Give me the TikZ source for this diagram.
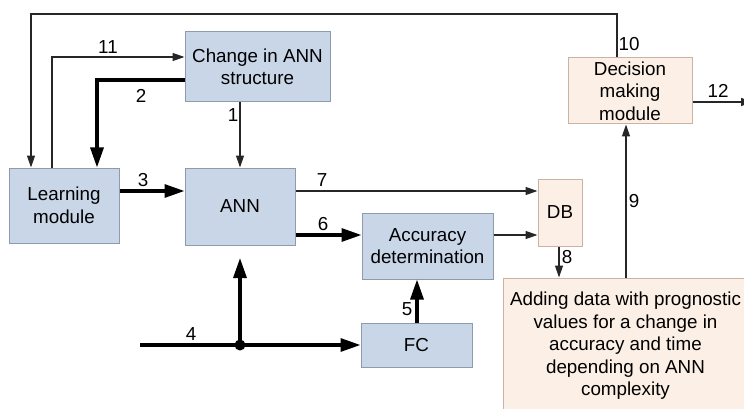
\documentclass[tikz,border=0pt]{standalone}
\usepackage{fontspec}
\setmainfont{Liberation Sans}
\usetikzlibrary{arrows.meta,calc}
\definecolor{bluefill}{HTML}{C9D6E8}
\definecolor{blueedge}{HTML}{8C9BAE}
\definecolor{peachfill}{HTML}{FCEFE6}
\definecolor{peachedge}{HTML}{C9B3A4}
\definecolor{linecol}{HTML}{262626}
\begin{document}
\begin{tikzpicture}[x=1pt,y=-1pt,
  font=\fontsize{18.8}{22.5}\selectfont,
  bluebox/.style={draw=blueedge,fill=bluefill,line width=1pt,align=center,inner sep=0pt,anchor=center},
  peachbox/.style={draw=peachedge,fill=peachfill,line width=1pt,align=center,inner sep=0pt,anchor=center},
  thinarrow/.style={draw=linecol,line width=1.3pt,-{Triangle[length=12pt,width=8pt]}},
  thickarrow/.style={draw=black,line width=3.2pt,-{Triangle[length=20pt,width=13pt]}},
  lbl/.style={inner sep=0pt,anchor=center}]
\useasboundingbox (0,0) rectangle (744,409);
% boxes
\node[bluebox,minimum width=110pt,minimum height=75pt] (learn) at (64,205.5) {Learning\\module};
\node[bluebox,minimum width=145pt,minimum height=70pt] (change) at (257.5,67) {Change in ANN\\structure};
\node[bluebox,minimum width=110pt,minimum height=77pt] (ann) at (240,206.5) {ANN};
\node[bluebox,minimum width=131pt,minimum height=66pt] (acc) at (427.5,246) {Accuracy\\determination};
\node[bluebox,minimum width=111pt,minimum height=44pt] (fc) at (416.5,345) {FC};
\node[peachbox,minimum width=44pt,minimum height=67pt] (db) at (560,212.5) {DB};
\node[peachbox,minimum width=124pt,minimum height=66pt] (dec) at (630,91) {Decision\\making\\module};
\node[peachbox,minimum width=245pt,minimum height=136pt] (add) at (625.5,346) {Adding data with prognostic\\values for a change in\\accuracy and time\\depending on ANN\\complexity};
% helper coordinates
\coordinate (x31) at (31,14);
\coordinate (x52) at (52,57);
\coordinate (x97) at (97,80);
\coordinate (x617) at (617,14);
\coordinate (x626) at (626,0);
\coordinate (y191) at (0,191);
\coordinate (y235) at (0,235);
\coordinate (y102) at (0,102);
\coordinate (x417) at (417,0);
\coordinate (x559) at (559,0);
\coordinate (in4) at (140,345);
\coordinate (dot) at (240,345);
\coordinate (up4) at (240,258);
\coordinate (out12) at (753,102);
% connectors
\draw[thinarrow] (dec.north -| x617) -- (x617) -- (x31) -- (learn.north -| x31);
\draw[thinarrow] (learn.north -| x52) -- (x52) -- (change.west |- x52);
\draw[thickarrow] (change.west |- x97) -- (x97) -- (learn.north -| x97);
\draw[thinarrow] (change.south -| ann.north) -- (ann.north);
\draw[thickarrow] (learn.east |- y191) -- (ann.west |- y191);
\draw[thinarrow] (ann.east |- y191) -- (db.west |- y191);
\draw[thickarrow] (ann.east |- y235) -- (acc.west |- y235);
\draw[thinarrow] (acc.east |- y235) -- (db.west |- y235);
\draw[thinarrow] (db.south -| x559) -- (add.north -| x559);
\draw[thinarrow] (add.north -| x626) -- (dec.south -| x626);
\draw[thinarrow] (dec.east |- y102) -- (out12);
\draw[thickarrow] (in4) -- (fc.west |- in4);
\draw[thickarrow] (dot) -- (up4);
\fill (dot) circle (5.5pt);
\draw[thickarrow] (fc.north -| x417) -- (acc.south -| x417);
% labels
\node[lbl] (l11) at (108,47) {11};
\node[lbl] (l2) at (141,96) {2};
\node[lbl] (l1) at (233,115) {1};
\node[lbl] (l3) at (143,180) {3};
\node[lbl] (l7) at (322,180) {7};
\node[lbl] (l6) at (323,224) {6};
\node[lbl] (l5) at (407,309) {5};
\node[lbl] (l4) at (191,334) {4};
\node[lbl] (l8) at (567,257) {8};
\node[lbl] (l9) at (634,201) {9};
\node[lbl] (l10) at (629,44) {10};
\node[lbl] (l12) at (718,91) {12};
\end{tikzpicture}
\end{document}
